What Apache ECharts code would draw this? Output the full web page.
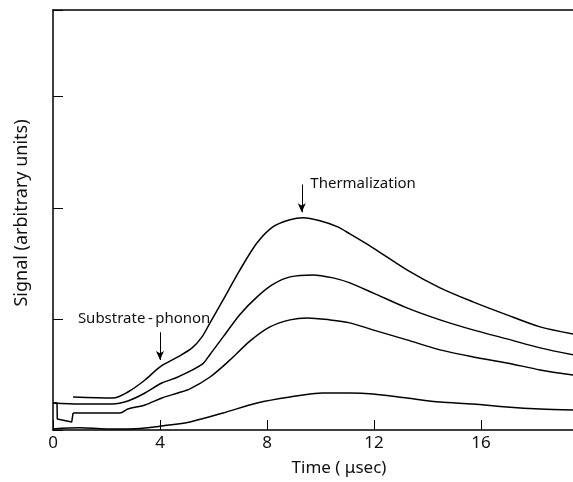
<!DOCTYPE html>
<html>
<head>
<meta charset="utf-8">
<script src="https://cdn.jsdelivr.net/npm/echarts@6/dist/echarts.min.js"></script>
<style>
html,body{margin:0;padding:0;background:#fff;}
#chart{width:573px;height:482px;}
</style>
</head>
<body>
<div id="chart"></div>
<script>
// Time (μsec) and signal (arbitrary units)
var c1T = [0.75, 2.24, 2.80, 3.44, 4.00, 4.67, 5.20, 5.57, 5.87, 6.36, 6.99, 7.63, 8.22, 8.86, 9.35, 9.98, 10.62, 11.10, 11.96, 13.23, 14.47, 15.70, 16.97, 18.21, 19.44];
var c1V = [0.297, 0.288, 0.342, 0.450, 0.568, 0.658, 0.739, 0.838, 0.964, 1.171, 1.441, 1.685, 1.829, 1.892, 1.910, 1.883, 1.830, 1.765, 1.640, 1.441, 1.279, 1.153, 1.036, 0.928, 0.865];

var c2T = [0.00, 1.00, 2.21, 2.80, 3.44, 4.07, 4.67, 5.57, 5.87, 6.36, 6.99, 7.63, 8.22, 8.86, 9.72, 10.47, 11.10, 11.96, 13.23, 14.47, 15.70, 16.97, 18.21, 19.44];
var c2V = [0.243, 0.234, 0.234, 0.261, 0.333, 0.423, 0.477, 0.590, 0.680, 0.838, 1.040, 1.198, 1.310, 1.378, 1.396, 1.369, 1.324, 1.234, 1.099, 0.991, 0.901, 0.820, 0.739, 0.676];

// third trace: initial step segment, then the main trace
var c3StepT = [0.00, 0.15, 0.16, 0.70, 0.75];
var c3StepV = [0.243, 0.243, 0.099, 0.072, 0.153];
var c3T = [0.75, 1.50, 2.50, 2.80, 3.44, 4.07, 4.67, 5.12, 5.87, 6.62, 7.36, 8.11, 8.86, 9.50, 10.36, 11.10, 11.96, 13.23, 14.47, 15.70, 16.97, 18.21, 19.44];
var c3V = [0.153, 0.153, 0.153, 0.189, 0.225, 0.288, 0.333, 0.370, 0.477, 0.631, 0.800, 0.928, 0.991, 1.009, 0.991, 0.964, 0.901, 0.811, 0.721, 0.658, 0.604, 0.541, 0.495];

var c4T = [0.00, 1.00, 2.00, 2.80, 3.44, 4.07, 5.12, 6.36, 7.63, 8.86, 10.09, 11.10, 11.96, 13.23, 14.47, 15.70, 16.97, 18.21, 19.44];
var c4V = [0.010, 0.020, 0.010, 0.010, 0.018, 0.036, 0.072, 0.153, 0.243, 0.297, 0.333, 0.333, 0.324, 0.288, 0.252, 0.234, 0.207, 0.189, 0.180];

var xTicks = [0, 4, 8, 12, 16];
var xMax = 19.44, yMax = 3.78;

// annotation anchors (data coordinates)
var thermArrow = [[9.30, 2.21], [9.30, 1.96]];
var thermText = {t: 9.62, v: 2.216, label: 'Thermalization'};
var subArrow = [[4.00, 0.88], [4.00, 0.63]];
var subText = {t: 0.93, v: 1.00, label: 'Substrate\u2009-\u2009phonon'};

function pairs(T, V) { return T.map(function (t, i) { return [t, V[i]]; }); }

var FONT = 'Noto Sans';
var chart = echarts.init(document.getElementById('chart'));

function lineSeries(T, V, smooth, extra) {
  var s = {
    type: 'line', data: pairs(T, V), showSymbol: false, smooth: smooth,
    lineStyle: {color: '#000', width: 1.5}, itemStyle: {color: '#000'},
    animation: false, silent: true
  };
  if (extra) for (var k in extra) s[k] = extra[k];
  return s;
}

var arrowLine = {
  silent: true, symbol: ['none', 'arrow'], symbolSize: [6, 9],
  lineStyle: {color: '#000', width: 1, type: 'solid'}, label: {show: false},
  animation: false
};

var option = {
  backgroundColor: '#fff',
  animation: false,
  grid: {left: 53, top: 10, right: 0, bottom: 52, containLabel: false, outerBoundsMode: 'none'},
  xAxis: [{
    type: 'value', min: 0, max: xMax, interval: 4,
    axisLine: {show: true, lineStyle: {color: '#000', width: 1.5}},
    axisTick: {show: true, inside: true, length: 10, lineStyle: {color: '#000', width: 1}},
    axisLabel: {color: '#111', fontFamily: FONT, fontSize: 17, margin: 5,
      formatter: function (v) { return xTicks.indexOf(v) >= 0 ? String(v) : ''; }},
    splitLine: {show: false},
    name: 'Time ( \u03bcsec)', nameLocation: 'middle', nameGap: 30,
    nameTextStyle: {color: '#111', fontFamily: FONT, fontSize: 17, padding: [0, 0, 0, 52]}
  }, {
    type: 'value', position: 'top', min: 0, max: xMax,
    axisLine: {show: true, onZero: false, lineStyle: {color: '#000', width: 1.5}},
    axisTick: {show: false}, axisLabel: {show: false}, splitLine: {show: false}
  }],
  yAxis: {
    type: 'value', min: 0, max: yMax, interval: 1,
    axisLine: {show: true, lineStyle: {color: '#000', width: 1.5}},
    axisTick: {show: true, inside: true, length: 10, lineStyle: {color: '#000', width: 1}},
    axisLabel: {show: false}, splitLine: {show: false},
    name: 'Signal (arbitrary units)', nameLocation: 'middle', nameGap: 22,
    nameTextStyle: {color: '#111', fontFamily: FONT, fontSize: 18, padding: [0, 0, 0, 14]}
  },
  series: [
    lineSeries(c1T, c1V, 0.3, {markLine: Object.assign({data: [[{coord: subArrow[0]}, {coord: subArrow[1]}]]}, arrowLine)}),
    lineSeries(c2T, c2V, 0.3, {markLine: Object.assign({data: [[{coord: thermArrow[0]}, {coord: thermArrow[1]}]]}, arrowLine)}),
    lineSeries(c3StepT, c3StepV, false),
    lineSeries(c3T, c3V, 0.3),
    lineSeries(c4T, c4V, 0.3)
  ]
};
chart.setOption(option);

function placeText() {
  var p1 = chart.convertToPixel({xAxisIndex: 0, yAxisIndex: 0}, [thermText.t, thermText.v]);
  var p2 = chart.convertToPixel({xAxisIndex: 0, yAxisIndex: 0}, [subText.t, subText.v]);
  chart.setOption({graphic: [
    {type: 'text', x: p1[0], y: p1[1], silent: true,
      style: {text: thermText.label, fill: '#111', font: '15px "' + FONT + '"', textAlign: 'left', textVerticalAlign: 'middle'}},
    {type: 'text', x: p2[0], y: p2[1], silent: true,
      style: {text: subText.label, fill: '#111', font: '15px "' + FONT + '"', textAlign: 'left', textVerticalAlign: 'middle'}}
  ]});
}
placeText();
</script>
</body>
</html>
